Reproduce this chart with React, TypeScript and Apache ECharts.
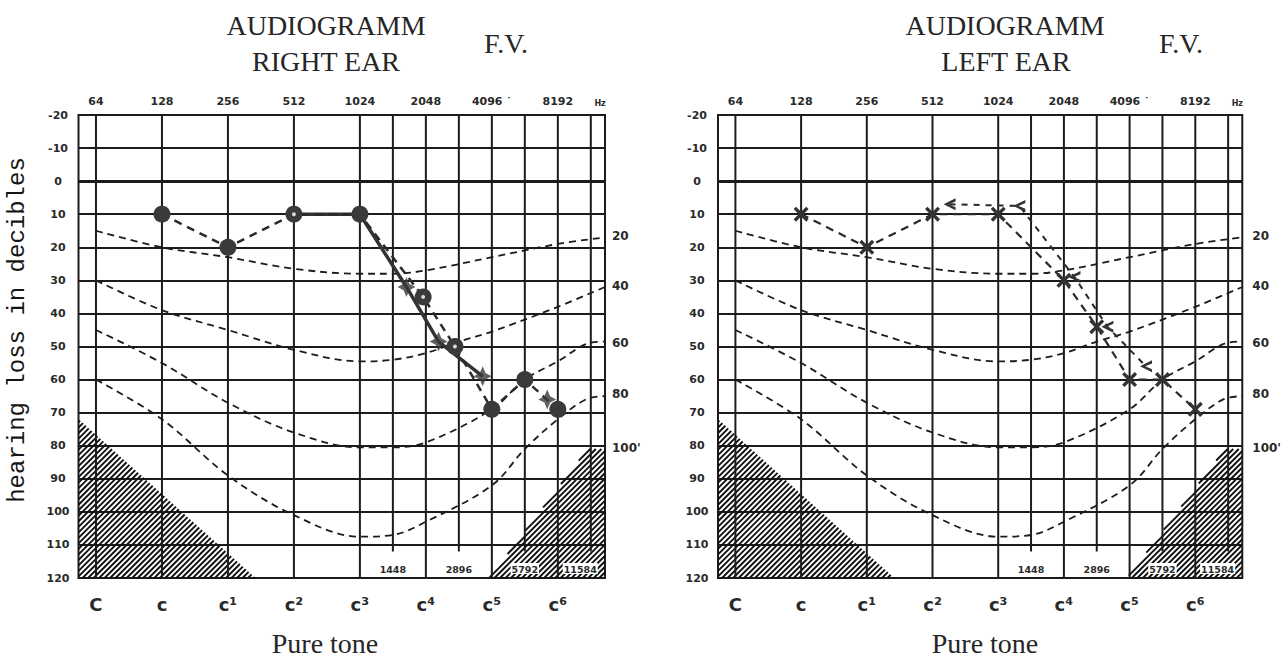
import React, { useEffect, useRef } from "react";
import * as echarts from "echarts";

// ---- axis domains ----
const X_MIN = 5.735; // log2(Hz) at left border
const X_MAX = 13.715; // log2(Hz) at right border
const DB_MIN = -20;
const DB_MAX = 120;
const DB_STEP = 10;

// ---- tick labels ----
const octaveFreqs = [64, 128, 256, 512, 1024, 2048, 4096, 8192];
const topLabels = ["64", "128", "256", "512", "1024", "2048", "4096 ˙", "8192"];
const unitLabel = "Hz";
const unitPos = 13.64;
const noteLabels = ["C", "c", "c¹", "c²", "c³", "c⁴", "c⁵", "c⁶"];
const halfOctaveFreqs = [1448, 2896, 5792, 11584];
const halfOctaveLabels = ["1448", "2896", "5792", "11584"];
const contourNames = ["20", "40", "60", "80", "100'"];
const contourEndDb = [16.7, 31.8, 48.8, 64.5, 80.6];

// ---- loudness contours [Hz, dB] ----
const curve20 = [[64, 15], [128, 20], [256, 23], [512, 26.5], [1024, 28], [1448, 28], [2048, 27], [4096, 23], [8192, 19], [13448, 17]];
const curve40 = [[64, 30], [128, 39], [256, 45], [512, 51], [1024, 54.5], [1448, 54], [2048, 52], [2896, 48.5], [4096, 45.5], [8192, 38], [13448, 32]];
const curve60 = [[64, 45], [128, 55], [256, 67], [512, 76], [1024, 80.5], [1448, 80.5], [2048, 79], [4096, 69], [5792, 60], [8192, 54.5], [11300, 49], [13448, 48.5]];
const curve80 = [[64, 60], [128, 72], [256, 89], [512, 101], [1024, 107.5], [1448, 107], [2048, 103], [4096, 92], [5792, 81], [8192, 72], [11000, 66], [13448, 65]];

// ---- hatched limits [Hz, dB] ----
const lowHatch = [[53.3, 72], [53.3, 120], [342, 120]];
const highHatch = [[13448, 81], [11200, 81], [3980, 120], [13448, 120]];

// ---- right ear [Hz, dB] ----
const rightAir = [[128, 10], [256, 20], [512, 10], [1024, 10], [1990, 35], [2780, 50], [4096, 69], [5792, 60], [8192, 69]];
const rightAirDots = [[512, 10], [1990, 35], [2780, 50]];
const rightBone = [[1670, 32], [2340, 48.5], [3720, 59], [7330, 66]];
const rightBoneTrace = [[512, 10], [1024, 10], [1670, 32], [2340, 48.5], [3720, 59]];

// ---- left ear [Hz, dB] ----
const leftAir = [[128, 10], [256, 20], [512, 10], [1024, 10], [2048, 30], [2896, 44], [4096, 60], [5792, 60], [8192, 69]];
const leftBone = [[613, 7], [1280, 7.5], [2290, 29], [3240, 44], [4870, 56]];

const INK = "#1c1c1c";
const X_SYMBOL = "path://M0,1.6 L1.6,0 L5,3.4 L8.4,0 L10,1.6 L6.6,5 L10,8.4 L8.4,10 L5,6.6 L1.6,10 L0,8.4 L3.4,5 Z";
const LT_SYMBOL = "path://M10,0 L0,5 L10,10 L10,7.4 L4.4,5 L10,2.6 Z";
const FLAG_SYMBOL = "path://M5,0 L6.6,3.4 L10,5 L6.6,6.6 L5,10 L3.4,6.6 L0,5 L3.4,3.4 Z";

const toXY = (p: number[]) => [Math.log2(p[0]), p[1]];

function hatchLines(pts: number[][], spacing: number) {
  const sums = pts.map((p) => p[0] + p[1]);
  const cMin = Math.min(...sums);
  const cMax = Math.max(...sums);
  const step = spacing * Math.SQRT2;
  const out: any[] = [];
  for (let c = cMin + step / 2; c < cMax; c += step) {
    const hits: number[][] = [];
    for (let i = 0; i < pts.length; i++) {
      const p = pts[i];
      const q = pts[(i + 1) % pts.length];
      const fp = p[0] + p[1] - c;
      const fq = q[0] + q[1] - c;
      if ((fp <= 0 && fq > 0) || (fp > 0 && fq <= 0)) {
        const t = fp / (fp - fq);
        hits.push([p[0] + (q[0] - p[0]) * t, p[1] + (q[1] - p[1]) * t]);
      }
    }
    if (hits.length >= 2) {
      hits.sort((a, b) => a[0] - b[0]);
      const a = hits[0];
      const b = hits[hits.length - 1];
      out.push({
        type: "line",
        shape: { x1: a[0], y1: a[1], x2: b[0], y2: b[1] },
        style: { stroke: "#111", lineWidth: 1.9 },
      });
    }
  }
  return out;
}

function hatchSeries(gi: number, poly: number[][]) {
  return {
    type: "custom",
    xAxisIndex: gi * 3,
    yAxisIndex: gi * 2,
    silent: true,
    z: 2,
    data: poly.map(toXY),
    renderItem: (params: any, api: any) => {
      if (params.dataIndex !== 0) return { type: "group", children: [] };
      const pts = poly.map((p) => api.coord(toXY(p)));
      return { type: "group", children: hatchLines(pts, 3.9) };
    },
  };
}

function vLineSeries(gi: number, freqs: number[], bottomDb: number) {
  return {
    type: "custom",
    xAxisIndex: gi * 3,
    yAxisIndex: gi * 2,
    silent: true,
    z: 3,
    data: freqs.map((f) => [Math.log2(f), bottomDb]),
    renderItem: (params: any, api: any) => {
      const a = api.coord([api.value(0), DB_MIN]);
      const b = api.coord([api.value(0), api.value(1)]);
      return {
        type: "line",
        shape: { x1: a[0], y1: a[1], x2: b[0], y2: b[1] },
        style: { stroke: INK, lineWidth: 2 },
      };
    },
  };
}

function curveSeries(gi: number, data: number[][], withZero: boolean) {
  const s: any = {
    type: "line",
    xAxisIndex: gi * 3,
    yAxisIndex: gi * 2,
    data: data.map(toXY),
    smooth: 0.35,
    symbol: "none",
    silent: true,
    z: 4,
    lineStyle: { color: INK, width: 1.8, type: [7, 5] },
  };
  if (withZero) {
    s.markLine = {
      silent: true,
      symbol: ["none", "none"],
      label: { show: false },
      lineStyle: { color: INK, width: 3.2, type: "solid" },
      data: [{ yAxis: 0 }],
    };
  }
  return s;
}

function baseSeries(gi: number) {
  return [
    hatchSeries(gi, lowHatch),
    hatchSeries(gi, highHatch),
    vLineSeries(gi, octaveFreqs, DB_MAX),
    vLineSeries(gi, halfOctaveFreqs, 112),
    curveSeries(gi, curve20, true),
    curveSeries(gi, curve40, false),
    curveSeries(gi, curve60, false),
    curveSeries(gi, curve80, false),
  ];
}

function axesFor(gi: number) {
  const topVals = [...octaveFreqs.map((f) => Math.log2(f)), unitPos];
  const noteVals = octaveFreqs.map((f) => Math.log2(f));
  const halfVals = halfOctaveFreqs.map((f, i) => Math.log2(f) - (i === halfOctaveFreqs.length - 1 ? 0.16 : 0));
  const pick = (vals: number[], labels: string[]) => (v: number) => {
    let best = 0;
    for (let i = 0; i < vals.length; i++) if (Math.abs(vals[i] - v) < Math.abs(vals[best] - v)) best = i;
    return labels[best];
  };
  const common = {
    gridIndex: gi,
    type: "value",
    min: X_MIN,
    max: X_MAX,
    axisLine: { show: false },
    axisTick: { show: false },
    splitLine: { show: false },
  };
  const xAxes = [
    {
      ...common,
      position: "top",
      axisLabel: {
        customValues: topVals,
        formatter: (v: number) => {
          const l = pick(topVals, [...topLabels, unitLabel])(v);
          return l === unitLabel ? "{hz|" + l + "}" : l;
        },
        margin: 8,
        fontSize: 11,
        fontWeight: "bold",
        fontFamily: "DejaVu Sans",
        color: "#2a2a2a",
        rich: { hz: { fontSize: 8, fontWeight: "bold", fontFamily: "DejaVu Sans", color: "#2a2a2a" } },
      },
    },
    {
      ...common,
      position: "bottom",
      axisLabel: {
        customValues: noteVals,
        formatter: pick(noteVals, noteLabels),
        margin: 17,
        fontSize: 18,
        fontWeight: "bold",
        fontFamily: "DejaVu Sans",
        color: "#2a2a2a",
      },
    },
    {
      ...common,
      position: "bottom",
      z: 10,
      axisLabel: {
        inside: true,
        customValues: halfVals,
        formatter: pick(halfVals, halfOctaveLabels),
        margin: 4,
        fontSize: 9.5,
        fontWeight: "bold",
        fontFamily: "DejaVu Sans",
        color: "#2a2a2a",
        backgroundColor: "#fff",
        padding: [1, 1, 0, 1],
      },
    },
  ];
  const yAxes = [
    {
      gridIndex: gi,
      type: "value",
      inverse: true,
      min: DB_MIN,
      max: DB_MAX,
      interval: DB_STEP,
      position: "left",
      axisLine: { show: false },
      axisTick: { show: false },
      splitLine: { show: true, lineStyle: { color: INK, width: 2 } },
      axisLabel: {
        margin: gi === 0 ? 20.5 : 21,
        align: "center",
        fontSize: 11,
        fontWeight: "bold",
        fontFamily: "DejaVu Sans",
        color: "#2a2a2a",
      },
    },
    {
      gridIndex: gi,
      type: "value",
      inverse: true,
      min: DB_MIN,
      max: DB_MAX,
      position: "right",
      axisLine: { show: false },
      axisTick: { show: false },
      splitLine: { show: false },
      axisLabel: {
        customValues: contourEndDb,
        formatter: pick(contourEndDb, contourNames),
        margin: gi === 0 ? 7 : 10,
        fontSize: 12,
        fontWeight: "bold",
        fontFamily: "DejaVu Sans",
        color: "#2a2a2a",
      },
    },
  ];
  return { xAxes, yAxes };
}

function buildOption() {
  const a0 = axesFor(0);
  const a1 = axesFor(1);
  const titleFont = '28px "Liberation Serif", serif';
  const txt = (text: string, x: number, y: number, font = titleFont, rotation = 0, fill = "#262626") => ({
    type: "text",
    x,
    y,
    rotation,
    silent: true,
    style: {
      text,
      font,
      fill,
      align: "center",
      verticalAlign: "middle",
      textAlign: "center",
      textVerticalAlign: "middle",
    },
  });
  return {
    animation: false,
    backgroundColor: "#ffffff",
    grid: [
      { left: 78.5, top: 115, width: 526.5, height: 463, show: true, borderColor: INK, borderWidth: 2, backgroundColor: "transparent" },
      { left: 718, top: 115, width: 525, height: 463, show: true, borderColor: INK, borderWidth: 2, backgroundColor: "transparent" },
    ],
    xAxis: [...a0.xAxes, ...a1.xAxes],
    yAxis: [...a0.yAxes, ...a1.yAxes],
    graphic: [
      txt("AUDIOGRAMM", 326, 25),
      txt("RIGHT EAR", 326, 61),
      txt("F.V.", 506, 43),
      txt("Pure tone", 325, 643),
      txt("AUDIOGRAMM", 1005, 25),
      txt("LEFT EAR", 1006, 61),
      txt("F.V.", 1181, 43),
      txt("Pure tone", 985, 643),
      txt("hearing loss in decibles", 17, 330, '24px "Liberation Mono", monospace', Math.PI / 2, "#151515"),
    ],
    series: [
      ...baseSeries(0),
      {
        type: "line",
        xAxisIndex: 0,
        yAxisIndex: 0,
        data: rightBoneTrace.map(toXY),
        symbol: "none",
        z: 5,
        lineStyle: { color: "#333", width: 3.5, type: "solid" },
      },
      {
        type: "line",
        xAxisIndex: 0,
        yAxisIndex: 0,
        data: rightAir.map(toXY),
        symbol: "circle",
        symbolSize: 17,
        showAllSymbol: true,
        z: 6,
        itemStyle: { color: "#3a3a3a" },
        lineStyle: { color: "#2a2a2a", width: 2.5, type: [8, 6] },
      },
      {
        type: "scatter",
        xAxisIndex: 0,
        yAxisIndex: 0,
        data: rightAirDots.map(toXY),
        symbol: "circle",
        symbolSize: 4,
        z: 7,
        itemStyle: { color: "#ffffff" },
      },
      {
        type: "scatter",
        xAxisIndex: 0,
        yAxisIndex: 0,
        data: rightBone.map(toXY),
        symbol: FLAG_SYMBOL,
        symbolSize: [18, 20],
        z: 6,
        itemStyle: { color: "#3a3a3a" },
      },
      ...baseSeries(1),
      {
        type: "line",
        xAxisIndex: 3,
        yAxisIndex: 2,
        data: leftAir.map(toXY),
        symbol: X_SYMBOL,
        symbolSize: 15,
        showAllSymbol: true,
        z: 6,
        itemStyle: { color: "#333" },
        lineStyle: { color: "#2a2a2a", width: 2.2, type: [8, 6] },
      },
      {
        type: "line",
        xAxisIndex: 3,
        yAxisIndex: 2,
        data: leftBone.map(toXY),
        symbol: LT_SYMBOL,
        symbolSize: 12,
        showAllSymbol: true,
        z: 6,
        itemStyle: { color: "#333" },
        lineStyle: { color: "#2a2a2a", width: 2, type: [6, 6] },
      },
    ],
  };
}

export default function App() {
  const ref = useRef<HTMLDivElement>(null);
  useEffect(() => {
    if (!ref.current) return;
    const chart = echarts.init(ref.current, undefined, { renderer: "svg" });
    chart.setOption(buildOption() as any);
    return () => chart.dispose();
  }, []);
  return (
    <div
      ref={ref}
      style={{ position: "absolute", left: 0, top: 0, width: 1284, height: 659, background: "#fff" }}
    />
  );
}
